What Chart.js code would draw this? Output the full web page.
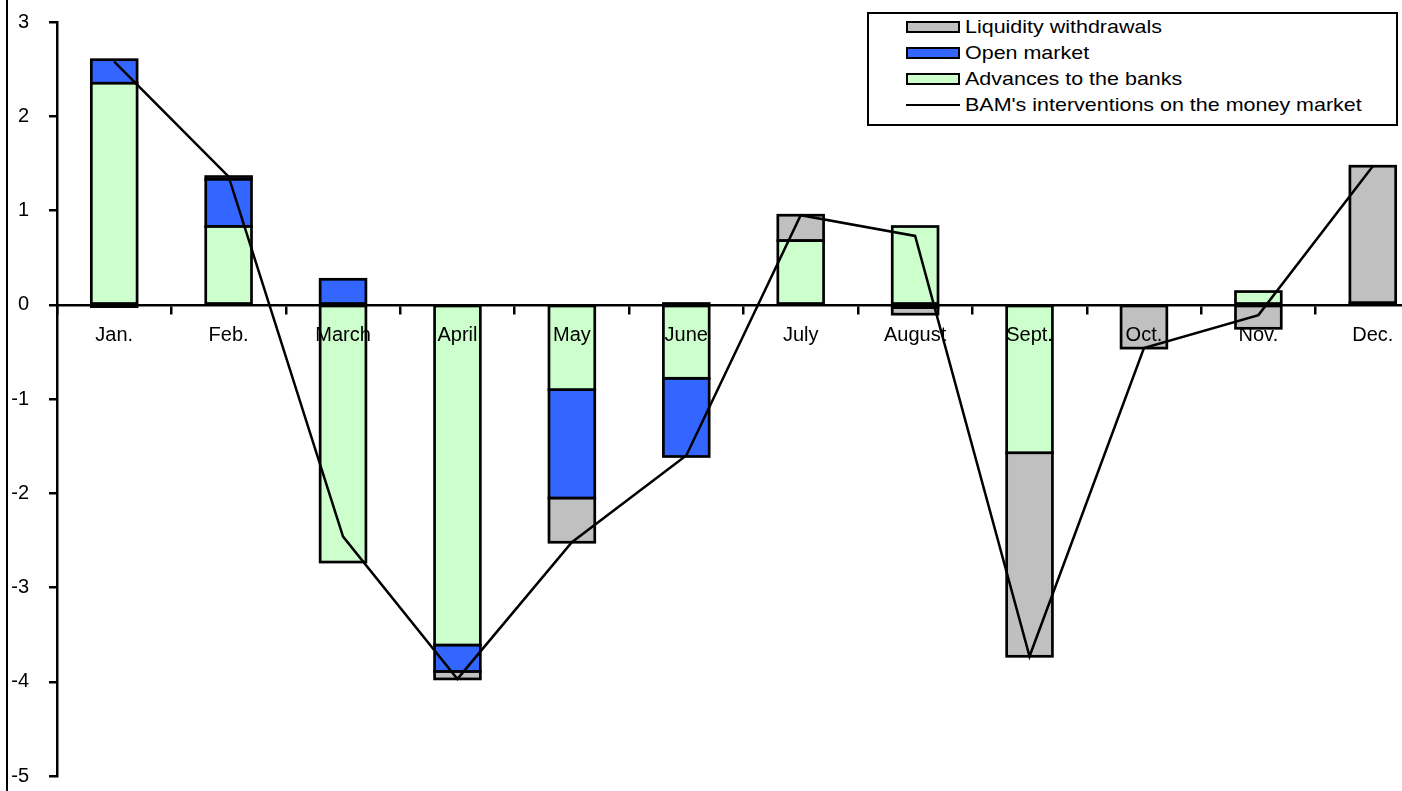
<!DOCTYPE html>
<html>
<head>
<meta charset="utf-8">
<title>BAM's interventions on the money market</title>
<script src="https://cdn.jsdelivr.net/npm/chart.js@4/dist/chart.umd.min.js"></script>
<style>
  html, body { margin: 0; padding: 0; background: #fff; overflow: hidden; }
  #wrap { position: relative; width: 1402px; height: 791px; overflow: hidden; }
  #frame { position: absolute; left: 6px; top: 0; height: 791px; border-left: 2px solid #000; }
  #chart { position: absolute; left: 0; top: 0; }
  #legend {
    position: absolute; left: 867px; top: 12px; width: 527px; height: 110px;
    border: 2px solid #000; background: #fff;
    font: 19px Arial, "Liberation Sans", sans-serif; color: #000;
  }
  .row { display: flex; align-items: center; height: 26px; padding-left: 37px; }
  .swatch { box-sizing: border-box; width: 54px; height: 12px; border: 2px solid #000; margin-right: 5px; flex: none; }
  .swatch.line { height: 2px; border: none; background: #000; }
  .txt { display: inline-block; white-space: nowrap; transform: scaleX(1.13); transform-origin: left center; }
</style>
</head>
<body>
<div id="wrap">
  <canvas id="chart" width="1440" height="791"></canvas>
  <div id="frame"></div>
  <div id="legend"></div>
</div>
<script>
// Monthly figures, billions of dirhams
const months = ['Jan.', 'Feb.', 'March', 'April', 'May', 'June', 'July', 'August', 'Sept.', 'Oct.', 'Nov.', 'Dec.'];
const advances = [2.35, 0.83, -2.73, -3.61, -0.90, -0.78, 0.68, 0.83, -1.57, 0, 0.14, 0.02];
const openMarket = [0.25, 0.50, 0.27, -0.28, -1.15, -0.83, 0, -0.03, 0, 0, 0, 0];
const withdrawals = [-0.02, 0.03, 0, -0.08, -0.47, 0.01, 0.27, -0.07, -2.16, -0.46, -0.25, 1.45];
const interventions = [2.58, 1.36, -2.46, -3.97, -2.52, -1.60, 0.95, 0.73, -3.73, -0.46, -0.11, 1.47];

const yTicks = [3, 2, 1, 0, -1, -2, -3, -4, -5];

const FONT = { family: 'Arial, "Liberation Sans", sans-serif', size: 20 };

function barSet(label, data, color) {
  return {
    type: 'bar',
    label: label,
    data: data,
    backgroundColor: color,
    borderWidth: 0,
    categoryPercentage: 1,
    barPercentage: 0.4
  };
}

// outline each bar segment with a centred stroke so shared edges stay one line thick
const barOutline = {
  id: 'barOutline',
  afterDatasetDraw(chart, args) {
    const meta = args.meta;
    if (meta.type !== 'bar') return;
    const ctx = chart.ctx;
    ctx.save();
    ctx.strokeStyle = '#000';
    ctx.lineWidth = 2.7;
    meta.data.forEach(function(bar) {
      const p = bar.getProps(['x', 'y', 'base', 'width'], true);
      const h = Math.abs(p.base - p.y);
      if (h === 0) return;
      ctx.strokeRect(p.x - p.width / 2, Math.min(p.y, p.base), p.width, h);
    });
    ctx.restore();
  }
};

const ctx = document.getElementById('chart');
const chart = new Chart(ctx, {
  data: {
    labels: months,
    datasets: [
      {
        type: 'line',
        label: "BAM's interventions on the money market",
        data: interventions,
        borderColor: '#000',
        borderWidth: 2.5,
        pointRadius: 0,
        tension: 0,
        fill: false,
        stack: 'line',
        order: -1
      },
      barSet('Advances to the banks', advances, '#CCFFCC'),
      barSet('Open market', openMarket, '#3366FF'),
      barSet('Liquidity withdrawals', withdrawals, '#C0C0C0')
    ]
  },
  options: {
    responsive: false,
    animation: false,
    devicePixelRatio: 1,
    layout: { padding: { left: 0, top: 22, right: 10, bottom: 15 } },
    plugins: {
      legend: { display: false },
      tooltip: { enabled: false }
    },
    scales: {
      x: {
        type: 'category',
        position: { y: 0 },
        stacked: true,
        offset: true,
        grid: {
          offset: true,
          drawOnChartArea: false,
          drawTicks: true,
          tickLength: 8,
          color: '#000',
          lineWidth: 2.5
        },
        border: { display: true, color: '#000', width: 2.5 },
        // month names sit on top of the bars
        ticks: { z: 1, color: '#000', font: FONT, padding: 11, maxRotation: 0, autoSkip: false }
      },
      y: {
        position: 'left',
        stacked: true,
        min: -5,
        max: 3,
        afterFit: function(scale) {
          scale.width = 57;
          scale.paddingTop = 0;
          scale.paddingBottom = 0;
        },
        afterBuildTicks: function(scale) { scale.ticks = yTicks.map(v => ({ value: v })); },
        grid: {
          drawOnChartArea: false,
          drawTicks: true,
          tickLength: 8,
          color: '#000',
          lineWidth: 2.5
        },
        border: { display: true, color: '#000', width: 2.5 },
        ticks: { color: '#000', font: FONT, padding: 20 }
      }
    }
  },
  plugins: [barOutline]
});

// Legend box: bar series top-down as stacked, then the line
function buildLegend(chart) {
  const box = document.getElementById('legend');
  const ds = chart.data.datasets;
  const items = [ds[3], ds[2], ds[1], ds[0]];
  items.forEach(function(d) {
    const row = document.createElement('div');
    row.className = 'row';
    const sw = document.createElement('span');
    sw.className = d.type === 'line' ? 'swatch line' : 'swatch';
    if (d.type !== 'line') sw.style.background = d.backgroundColor;
    const txt = document.createElement('span');
    txt.className = 'txt';
    txt.textContent = d.label;
    row.appendChild(sw);
    row.appendChild(txt);
    box.appendChild(row);
  });
}
buildLegend(chart);
</script>
</body>
</html>
